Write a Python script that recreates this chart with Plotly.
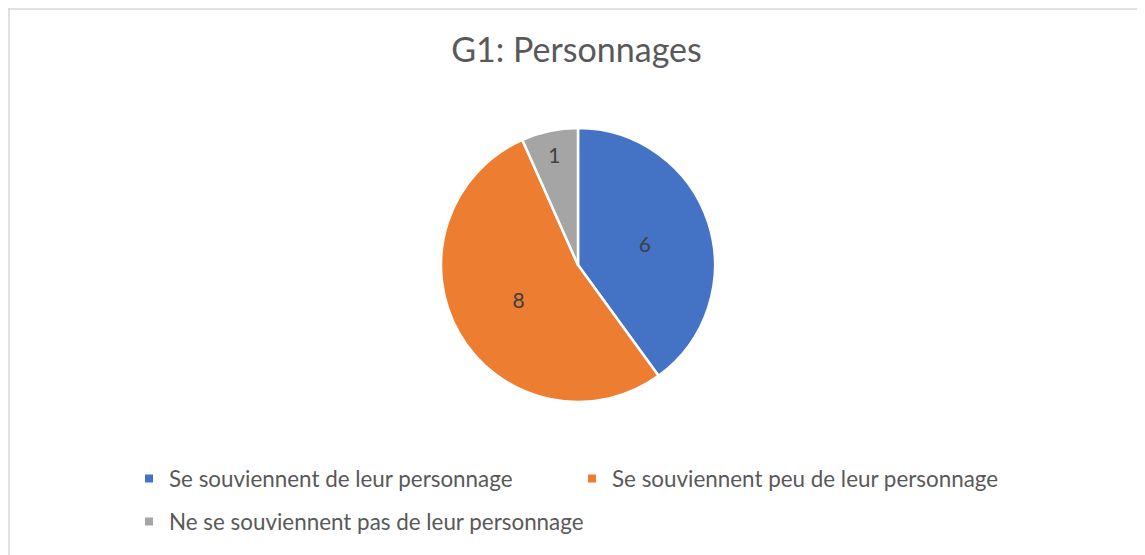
import plotly.graph_objects as go

categories = [
    "Se souviennent de leur personnage",
    "Se souviennent peu de leur personnage",
    "Ne se souviennent pas de leur personnage",
]
values = [6, 8, 1]
colors = ["#4472C4", "#ED7D31", "#A5A5A5"]
title_text = "G1: Personnages"

# page body has an 8px margin, so the figure is sized to fit the window
W, H = 1137, 547
OFF = 8
cx, cy, r = 578 - OFF, 265 - OFF, 137

fig = go.Figure()
fig.add_trace(go.Pie(
    labels=categories,
    values=values,
    sort=False,
    direction="clockwise",
    rotation=0,
    marker=dict(colors=colors, line=dict(color="white", width=2.5)),
    textinfo="value",
    textposition="inside",
    insidetextorientation="horizontal",
    textfont=dict(family="Lato", size=21, color="#404040"),
    domain=dict(x=[(cx - r) / W, (cx + r) / W],
                y=[(H - cy - r) / H, (H - cy + r) / H]),
    hoverinfo="label+value",
    showlegend=False,
))

for i, cat in enumerate(categories):
    fig.add_trace(go.Scatter(
        x=[None], y=[None], mode="markers", name=cat,
        marker=dict(symbol="square", size=8, color=colors[i]),
        legend="legend" if i < 2 else "legend2",
        hoverinfo="skip",
    ))

leg_font = dict(family="Lato", size=22.4, color="#595959")
leg_x = (152 - OFF - 23) / W
fig.update_layout(
    width=W, height=H,
    margin=dict(l=0, r=0, t=0, b=0),
    paper_bgcolor="white",
    plot_bgcolor="white",
    xaxis=dict(visible=False),
    yaxis=dict(visible=False),
    title=dict(text=title_text, x=0.5, xanchor="center", y=1 - (50 - OFF) / H, yanchor="middle",
               font=dict(family="Lato", size=34, color="#595959")),
    legend=dict(orientation="h", x=leg_x, xanchor="left", y=1 - (479 - OFF) / H, yanchor="middle",
                entrywidth=398, entrywidthmode="pixels", itemwidth=30,
                font=leg_font, bgcolor="rgba(0,0,0,0)"),
    legend2=dict(orientation="h", x=leg_x, xanchor="left", y=1 - (522 - OFF) / H, yanchor="middle",
                 itemwidth=30, font=leg_font, bgcolor="rgba(0,0,0,0)"),
    shapes=[
        dict(type="line", xref="paper", yref="paper", x0=0, x1=1, y0=1 - 1 / H, y1=1 - 1 / H,
             line=dict(color="#D9D9D9", width=1.5)),
        dict(type="line", xref="paper", yref="paper", x0=1 / W, x1=1 / W, y0=0, y1=1,
             line=dict(color="#D9D9D9", width=1.5)),
    ],
)

fig.write_html("out.html")
